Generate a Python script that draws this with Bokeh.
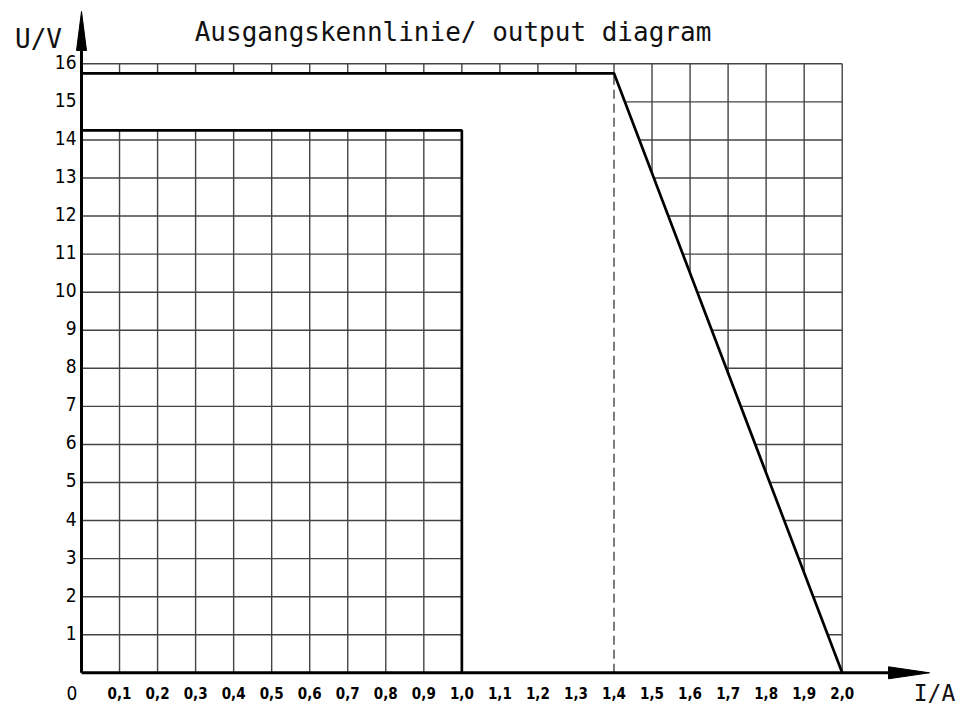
from bokeh.plotting import figure
from bokeh.models import Range1d, Label
from bokeh.core.properties import value
from bokeh.embed import file_html
from bokeh.resources import INLINE

# ---- data ----
current_ticks = [0.1, 0.2, 0.3, 0.4, 0.5, 0.6, 0.7, 0.8, 0.9, 1.0,
                 1.1, 1.2, 1.3, 1.4, 1.5, 1.6, 1.7, 1.8, 1.9, 2.0]
current_labels = ["0,1", "0,2", "0,3", "0,4", "0,5", "0,6", "0,7", "0,8", "0,9", "1,0",
                  "1,1", "1,2", "1,3", "1,4", "1,5", "1,6", "1,7", "1,8", "1,9", "2,0"]
voltage_ticks = [1, 2, 3, 4, 5, 6, 7, 8, 9, 10, 11, 12, 13, 14, 15, 16]
voltage_labels = ["1", "2", "3", "4", "5", "6", "7", "8", "9", "10",
                  "11", "12", "13", "14", "15", "16"]

# output characteristic (foldback): constant voltage then linear drop
curve_I = [0.0, 1.4, 2.0]
curve_U = [15.75, 15.75, 0.0]
# rated operating box
box_I = [0.0, 1.0, 1.0]
box_U = [14.25, 14.25, 0.0]

title_text = "Ausgangskennlinie/ output diagram"
y_title = "U/V"
x_title = "I/A"

# ---- geometry (pixel mapping; page body has no margin) ----
W, H = 963, 706
sx = 380.35      # px per A
sy = 38.0625     # px per V
org_x, org_y = 81.0, 672.3   # origin position inside canvas (px from top-left)


def dx(px):
    return (px - org_x) / sx


def dy(py):
    return (org_y - py) / sy


p = figure(width=W, height=H, output_backend="svg", toolbar_location=None,
           x_range=Range1d(dx(0), dx(W)),
           y_range=Range1d(dy(H), dy(0)),
           min_border=0, min_border_left=0, min_border_right=0,
           min_border_top=0, min_border_bottom=0)
p.xaxis.visible = False
p.yaxis.visible = False
p.xgrid.visible = False
p.ygrid.visible = False
p.outline_line_color = None
p.background_fill_color = "white"
p.border_fill_color = "white"

xmax = current_ticks[-1]
ymax = voltage_ticks[-1]
grid_col = "#444444"

# grid
p.segment(x0=current_ticks, y0=[0] * len(current_ticks),
          x1=current_ticks, y1=[ymax] * len(current_ticks),
          line_color=grid_col, line_width=1.4)
p.segment(x0=[0] * len(voltage_ticks), y0=voltage_ticks,
          x1=[xmax] * len(voltage_ticks), y1=voltage_ticks,
          line_color=grid_col, line_width=1.4)

# blank region between the characteristic and the rated box
blank_x = curve_I + box_I[::-1]
blank_y = curve_U + box_U[::-1]
p.patch(blank_x, blank_y, fill_color="white", line_color="white", line_width=1)

# dashed vertical at the knee
p.segment(x0=[curve_I[1]], y0=[0], x1=[curve_I[1]], y1=[curve_U[1]],
          line_color="#444444", line_width=1.4, line_dash="9 5")

# thick lines
p.line(box_I, box_U, line_color="black", line_width=2.7)
p.line(curve_I, curve_U, line_color="black", line_width=2.7)

# axes with arrows
ax_len_x, ax_tip_x = dx(888), dx(929)
ax_len_y, ax_tip_y = dy(50), dy(11)
hw_x = 5.0 / sx
hh_y = 6.0 / sy
p.line([0, 0], [0, ax_len_y], line_color="black", line_width=3)
p.line([0, ax_len_x], [0, 0], line_color="black", line_width=3)
p.patch([-hw_x, 0, hw_x], [ax_len_y, ax_tip_y, ax_len_y],
        fill_color="black", line_color="black", line_width=1)
p.patch([ax_len_x, ax_tip_x, ax_len_x], [-hh_y, 0, hh_y],
        fill_color="black", line_color="black", line_width=1)

label_font = value("DejaVu Sans Condensed")

# x tick labels
p.text(x=current_ticks, y=[0] * len(current_ticks), text=current_labels,
       x_offset=0, y_offset=20, text_align="center", text_baseline="middle",
       text_font=label_font, text_font_style="bold", text_font_size="15px",
       text_color="black")
# y tick labels
p.text(x=[0] * len(voltage_ticks), y=voltage_ticks, text=voltage_labels,
       x_offset=-5, y_offset=-2, text_align="right", text_baseline="middle",
       text_font=label_font, text_font_size="19px", text_color="black")
# origin
p.text(x=[0], y=[0], text=["0"], x_offset=-9.5, y_offset=20,
       text_align="center", text_baseline="middle",
       text_font=label_font, text_font_size="19px", text_color="black")

mono = "DejaVu Sans Mono"
p.add_layout(Label(x=dx(452.5), y=dy(31.5), text=title_text,
                   text_align="center", text_baseline="alphabetic",
                   text_font=mono, text_font_size="26px", text_color="#111111"))
p.add_layout(Label(x=dx(38), y=dy(38), text=y_title,
                   text_align="center", text_baseline="alphabetic",
                   text_font=mono, text_font_size="26px", text_color="#111111"))
p.add_layout(Label(x=dx(934), y=dy(692), text=x_title,
                   text_align="center", text_baseline="middle",
                   text_font=mono, text_font_size="23px", text_color="#111111"))

open("out.html", "w").write(file_html(p, INLINE))
